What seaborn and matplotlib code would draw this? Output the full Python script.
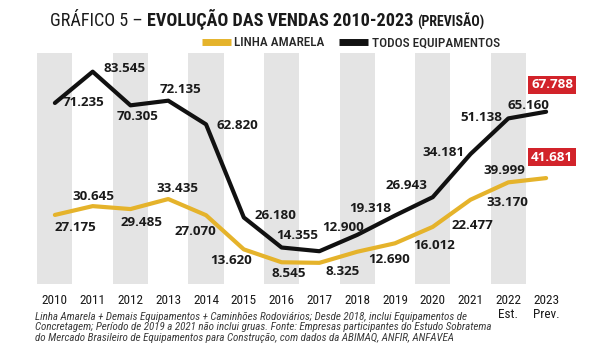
import matplotlib
matplotlib.use('Agg')
import matplotlib.pyplot as plt
from matplotlib import font_manager
from matplotlib.lines import Line2D
import pandas as pd
import seaborn as sns

# dados do gráfico
anos = ['2010', '2011', '2012', '2013', '2014', '2015', '2016', '2017',
        '2018', '2019', '2020', '2021', '2022', '2023']
sub_anos = ['', '', '', '', '', '', '', '', '', '', '', '', 'Est.', 'Prev.']
linha_amarela = [27175, 30645, 29485, 33435, 27070, 13620, 8545, 8325,
                 12690, 16012, 22477, 33170, 39999, 41681]
todos_equip = [71235, 83545, 70305, 72135, 62820, 26180, 14355, 12900,
               19318, 26943, 34181, 51138, 65160, 67788]

# posição dos rótulos (offset em pixels)
off_preto = [(29, 0), (32, 3), (7, -11), (12, 11), (31, -1), (32, 2), (16, 12),
             (24, 24), (13, 26), (12, 30), (11, 45), (11, 37), (20, 13), (6, 27)]
off_amarelo = [(21, -13), (1, 10), (11, -13), (9, 11), (-11, -16), (-13, -11),
               (7, -11), (23, -9), (32, -8), (39, -2), (40, 1), (37, -3), (-4, 12), (6, 21)]

AMARELO = '#e5b32b'
PRETO = '#111111'
VERMELHO = '#d2232a'

nomes = {f.name for f in font_manager.fontManager.ttflist}

def escolhe(cands):
    for c in cands:
        if c in nomes:
            return c
    return 'DejaVu Sans'

cond = escolhe(['Roboto Condensed', 'Liberation Sans Narrow', 'PT Sans Narrow', 'Fira Sans Condensed'])
bold_font = escolhe(['Open Sans', 'Roboto'])

sns.set_style('white')
plt.rcParams['font.family'] = [cond, 'DejaVu Sans']

df = pd.DataFrame({
    'pos': list(range(len(anos))) * 2,
    'vendas': linha_amarela + todos_equip,
    'serie': ['LINHA AMARELA'] * len(anos) + ['TODOS EQUIPAMENTOS'] * len(anos),
})

fig = plt.figure(figsize=(6, 3.61), dpi=100)
ax = fig.add_axes([36 / 600, 1 - 284 / 361, 529 / 600, 231 / 361])

# faixas cinza
for i in range(0, len(anos), 2):
    ax.axvspan(i - 0.465, i + 0.465, color='#e4e4e4', lw=0, zorder=0)

sns.lineplot(data=df, x='pos', y='vendas', hue='serie',
             palette={'LINHA AMARELA': AMARELO, 'TODOS EQUIPAMENTOS': PRETO},
             linewidth=3, legend=False, ax=ax, zorder=3)

def fmt(v):
    return f'{v:,}'.replace(',', '.')

for serie, offs in ((linha_amarela, off_amarelo), (todos_equip, off_preto)):
    for i, v in enumerate(serie):
        ultimo = i == len(serie) - 1
        ax.annotate(fmt(v), xy=(i, v), xytext=offs[i], textcoords='offset pixels',
                    ha='center', va='center', fontsize=9.6, fontweight='bold',
                    family=bold_font, color='white' if ultimo else '#1a1a1a',
                    bbox=dict(boxstyle='square,pad=0.2', fc=VERMELHO, ec='none') if ultimo else None,
                    zorder=5)

ax.set_xlim(-0.5, 13.5)
ax.set_ylim(0, 90900)
ax.set_xticks(range(len(anos)))
ax.set_xticklabels([a + ('\n' + s if s else '') for a, s in zip(anos, sub_anos)],
                   fontsize=9.5, color='#1a1a1a', linespacing=1.15)
ax.tick_params(axis='x', length=0, pad=7)
ax.set_yticks([])
ax.set_xlabel('')
ax.set_ylabel('')
sns.despine(ax=ax, left=True, bottom=True)

fig.canvas.draw()
r = fig.canvas.get_renderer()

# título (ajustado à largura do original)
partes = [('GRÁFICO 5 – ', 'normal', 15), ('EVOLUÇÃO DAS VENDAS 2010-2023 ', 'bold', 15),
          ('(PREVISÃO)', 'bold', 11.5)]
base_y = 1 - 26.5 / 361
titulo = [fig.text(0, base_y, txt, fontsize=tam, fontweight=peso, color='#1a1a1a',
                   va='baseline', ha='left') for txt, peso, tam in partes]
larg = sum(t.get_window_extent(renderer=r).width for t in titulo)
fator = 435 / larg
x = 50
for t in titulo:
    t.set_fontsize(t.get_fontsize() * fator)
    t.set_x(x / 600)
    x += t.get_window_extent(renderer=r).width

handles = [Line2D([], [], color=AMARELO, lw=5, solid_capstyle='butt'),
           Line2D([], [], color=PRETO, lw=5, solid_capstyle='butt')]
fig.legend(handles, ['LINHA AMARELA', 'TODOS EQUIPAMENTOS'], loc='center',
           bbox_to_anchor=(351 / 600, 1 - 43 / 361), ncol=2, frameon=False,
           prop={'size': 9.5, 'weight': 'medium'}, handlelength=2.2,
           handletextpad=0.3, columnspacing=1.1)

nota = ['Linha Amarela + Demais Equipamentos + Caminhões Rodoviários; Desde 2018, inclui Equipamentos de',
        'Concretagem; Período de 2019 a 2021 não inclui gruas. Fonte: Empresas participantes do Estudo Sobratema',
        'do Mercado Brasileiro de Equipamentos para Construção, com dados da ABIMAQ, ANFIR, ANFAVEA']
notas = [fig.text(35 / 600, 1 - (316.5 + 10.5 * k) / 361, linha, fontsize=8, style='italic',
                  color='#3a3a3a', va='center', ha='left') for k, linha in enumerate(nota)]
fator = 460 / notas[1].get_window_extent(renderer=r).width
for t in notas:
    t.set_fontsize(t.get_fontsize() * fator)

fig.savefig('out.png', dpi=100)
